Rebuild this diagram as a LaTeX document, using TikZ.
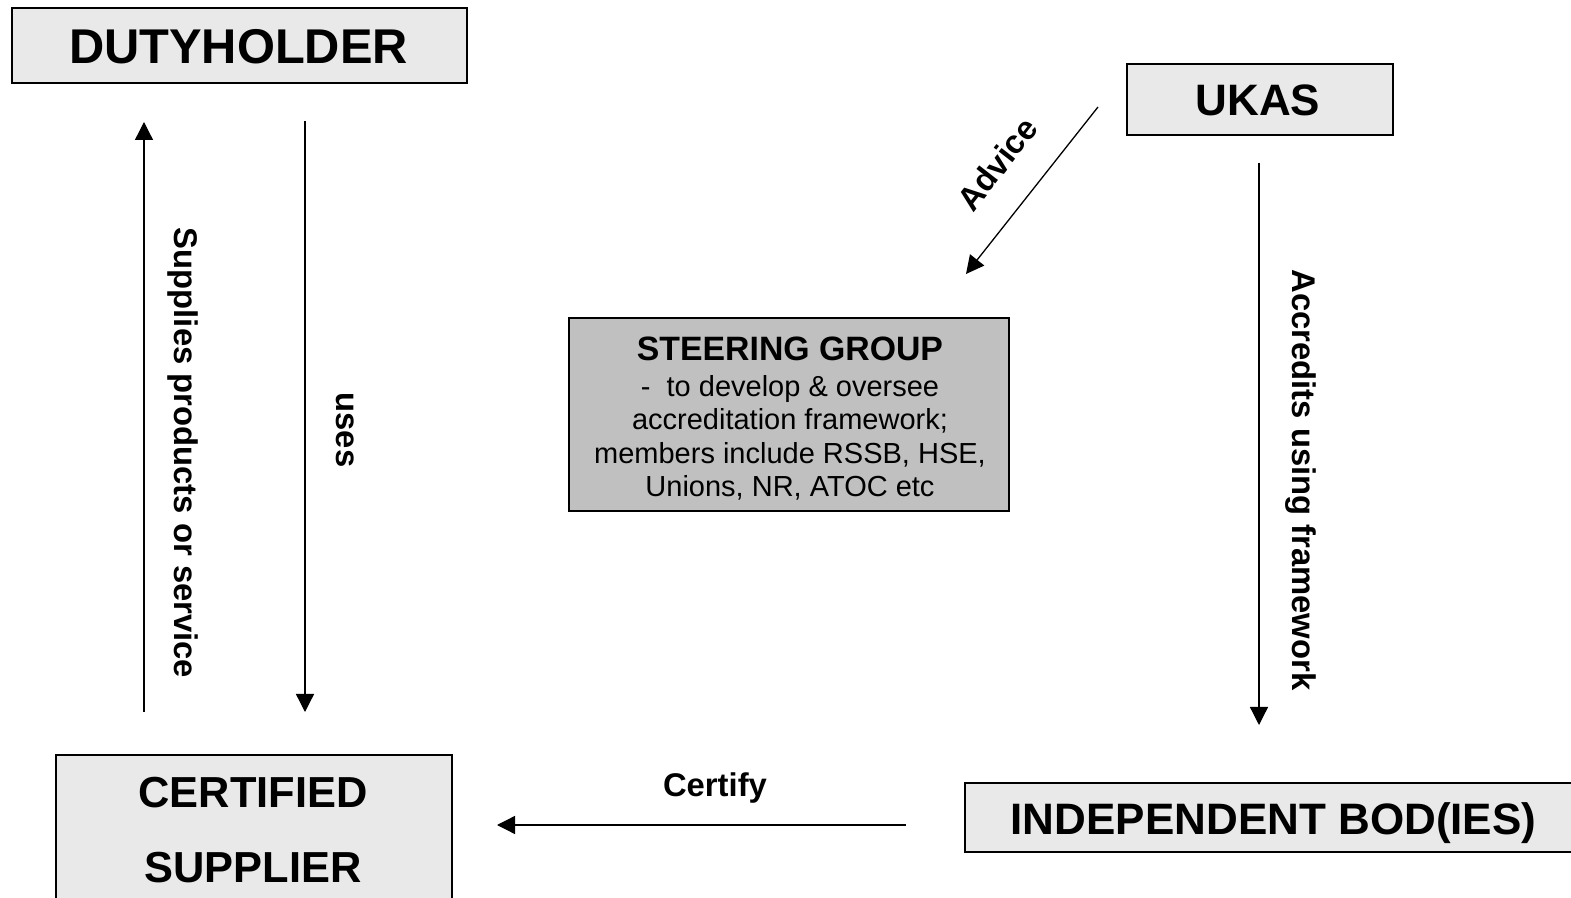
\documentclass[tikz,border=0pt]{standalone}
\usepackage{fontspec}
\setmainfont{Liberation Sans}
\usetikzlibrary{arrows.meta}
\definecolor{boxlight}{HTML}{E9E9E9}
\definecolor{boxmid}{HTML}{C0C0C0}
\tikzset{
  lightbox/.style={draw=black, line width=1pt, fill=boxlight, inner sep=0pt},
  midbox/.style={draw=black, line width=0.8pt, fill=boxmid, inner sep=0pt},
  titletext/.style={font=\fontsize{24.4}{28}\selectfont\bfseries},
  lbl/.style={font=\fontsize{16.4}{19}\selectfont\bfseries, inner sep=0pt},
  conn/.style={line width=0.65pt, -{Triangle[length=9pt,width=9pt]}},
}
\begin{document}
\begin{tikzpicture}[x=0.5pt,y=-0.5pt]
\useasboundingbox (0,0) rectangle (1571,898);
\clip (0,0) rectangle (1571,898);
\fill[white] (0,0) rectangle (1571,898);

% boxes
\node[lightbox, minimum width=227.5pt, minimum height=37.5pt] (duty) at (239.5,45.5) {};
\node[titletext] (dutytext) at (238.5,47) {DUTYHOLDER};

\node[lightbox, minimum width=133pt, minimum height=35.5pt] (ukas) at (1259.5,99.5) {};
\node[titletext, font=\fontsize{22}{26}\selectfont\bfseries] (ukastext) at (1258,100.5) {UKAS};

\node[midbox, minimum width=220pt, minimum height=96.5pt] (steer) at (789,414.5) {};
\node[align=center, inner sep=0pt, font=\fontsize{14.5}{16.75}\selectfont] (steertext) at (790,418.5)
  {{\fontsize{16.9}{16.75}\selectfont\bfseries STEERING GROUP}\\[1.3pt]
   -~\ to develop \& oversee\\
   accreditation framework;\\
   members include RSSB, HSE,\\
   Unions, NR, ATOC etc};

\node[lightbox, minimum width=198pt, minimum height=90pt, anchor=north] (cert) at (254,754) {};
\node[align=center, inner sep=0pt, font=\fontsize{21.7}{25.8}\selectfont\bfseries] (certtext) at (253,830.5)
  {CERTIFIED\\[11.7pt]SUPPLIER};

\node[lightbox, minimum width=307.5pt, minimum height=34.5pt] (indep) at (1272.5,817.5) {};
\node[titletext, font=\fontsize{22}{26}\selectfont\bfseries] (indeptext) at (1273.5,823.5) {INDEPENDENT BOD(IES)};

% connector end points
\coordinate (supS) at (144,712);
\coordinate (supE) at (144,122);
\coordinate (useS) at (305,121);
\coordinate (useE) at (305,712);
\coordinate (advS) at (1098,107);
\coordinate (advE) at (966,274);
\coordinate (accS) at (1259,163);
\coordinate (accE) at (1259,725);
\coordinate (cerS) at (906,825);
\coordinate (cerE) at (497,825);

% connectors
\draw[conn] (supS) -- (supE);
\draw[conn] (useS) -- (useE);
\draw[conn] (advS) -- (advE);
\draw[conn] (accS) -- (accE);
\draw[conn] (cerS) -- (cerE);

% labels
\node[lbl, rotate=-90] (suplbl) at (183,453) {Supplies products or service};
\node[lbl, rotate=-90] (uselbl) at (345,430) {uses};
\node[lbl, rotate=52] (advlbl) at (997,164) {Advice};
\node[lbl, rotate=-90] (acclbl) at (1301,480) {Accredits using framework};
\node[lbl] (cerlbl) at (715,788.5) {Certify};
\end{tikzpicture}
\end{document}
